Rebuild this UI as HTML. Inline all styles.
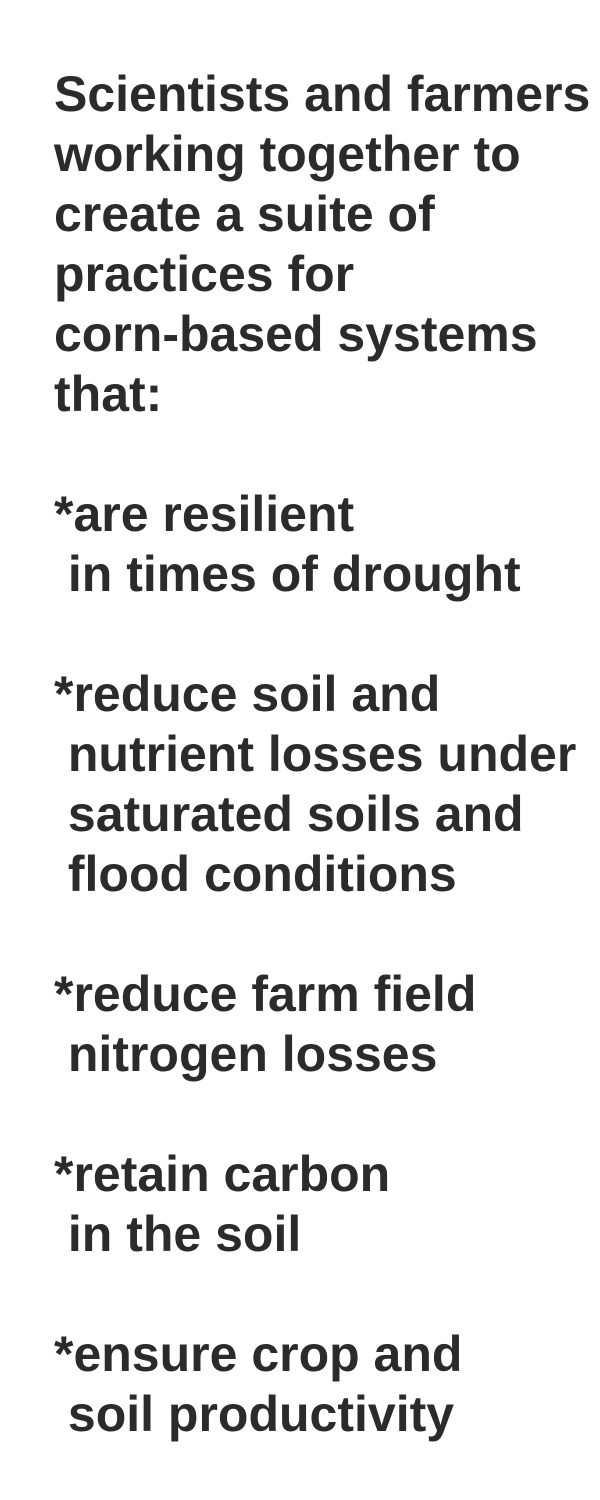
<!DOCTYPE html>
<html><head><meta charset="utf-8"><style>
html,body{margin:0;padding:0;background:#fff;width:600px;height:1500px;overflow:hidden}
#t{position:absolute;left:54px;top:64px;margin:0;font-family:"Liberation Sans",Arial,sans-serif;font-weight:bold;font-size:50px;line-height:60px;color:#2b2b2b;white-space:pre}
</style></head><body>
<pre id="t">Scientists and farmers
working together to
create a suite of
practices for
corn-based systems
that:

*are resilient
 in times of drought

*reduce soil and
 nutrient losses under
 saturated soils and
 flood conditions

*reduce farm field
 nitrogen losses

*retain carbon
 in the soil

*ensure crop and
 soil productivity</pre>
</body></html>
